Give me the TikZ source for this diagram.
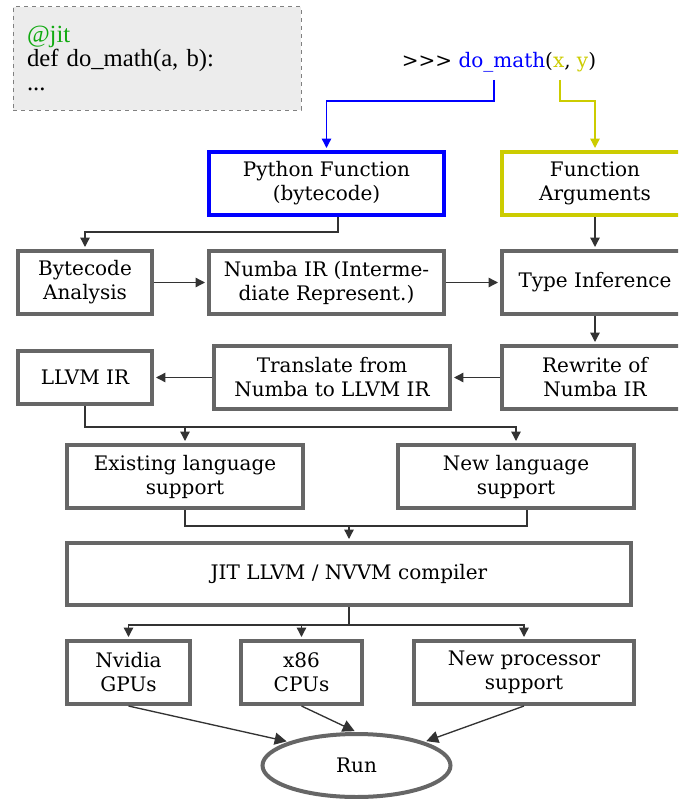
\documentclass[tikz,border=0pt]{standalone}
\usepackage{fontspec}
\setmainfont{DejaVu Serif}
\newfontfamily\codefont{Liberation Serif}
\usetikzlibrary{arrows.meta,shapes.geometric}
\definecolor{boxgray}{HTML}{666666}
\definecolor{linegray}{HTML}{333333}
\definecolor{argyellow}{HTML}{CCCC00}
\definecolor{jitgreen}{HTML}{11AA11}
\definecolor{codebg}{HTML}{ECECEC}
\tikzset{
  box/.style={draw=boxgray, line width=3pt, fill=white, minimum height=47.25pt,
    align=center, inner sep=0pt, font=\fontsize{15}{18}\selectfont},
  arr/.style={draw=linegray, line width=1pt, shorten >=1.5pt,
    -{Triangle[length=7pt,width=7pt]}},
  bigarr/.style={arr, -{Triangle[length=9pt,width=9pt]}},
}
\begin{document}
\begin{tikzpicture}[x=0.75pt,y=-0.75pt]
\useasboundingbox (0,0) rectangle (678,799);
\clip (0,0) rectangle (678,799);
% source and call
\node[draw=gray, dashed, fill=codebg, line width=0.75pt, minimum width=216pt,
  minimum height=77.25pt, text width=195pt, align=left,
  font=\codefont\fontsize{18.5}{18}\selectfont] (code) at (157,58.5)
  {\textcolor{jitgreen}{@jit}\\def do\_math(a, b):\\...};
\node[font=\fontsize{15}{18}\selectfont] (call) at (499,62)
  {>{}>{}> \textcolor{blue}{do\_math}(\textcolor{argyellow}{x}, \textcolor{argyellow}{y})};
\coordinate (callf) at (494,80);
\coordinate (calla) at (560,80);
% boxes
\node[box, draw=blue, minimum width=176.25pt] (pyfun) at (326.5,183.5) {Python Function\\(bytecode)};
\node[box, draw=argyellow, minimum width=139.5pt] (args) at (595,183.5) {Function\\Arguments};
\node[box, minimum width=100.5pt] (bca) at (85,282.5) {Bytecode\\Analysis};
\node[box, minimum width=176.25pt] (nir) at (326.5,282.5) {Numba IR (Interme-\\diate Represent.)};
\node[box, minimum width=139.5pt] (tinf) at (595,282.5) {Type Inference};
\node[box, minimum width=139.5pt] (rew) at (595,377.5) {Rewrite of\\Numba IR};
\node[box, minimum width=177pt] (trans) at (332,377.5) {Translate from\\Numba to LLVM IR};
\node[box, minimum width=100.5pt, minimum height=39.75pt] (llvm) at (85,377.5) {LLVM IR};
\node[box, minimum width=177pt] (exist) at (185,476.5) {Existing language\\support};
\node[box, minimum width=177pt] (newl) at (516,476.5) {New language\\support};
\node[box, minimum width=423pt, minimum height=46.5pt] (jit) at (349,574) {JIT LLVM / NVVM compiler};
\node[box, minimum width=92.25pt] (gpu) at (128.5,672.5) {Nvidia\\GPUs};
\node[box, minimum width=90.75pt] (cpu) at (301.5,672.5) {x86\\CPUs};
\node[box, minimum width=165pt] (npro) at (524,672.5) {New processor\\support};
\node[box, ellipse, minimum width=141pt, minimum height=47.25pt] (run) at (356.5,765.5) {Run};
% connectors
\draw[arr, draw=blue] (callf) -- ++(0,21) -| (pyfun.north);
\draw[arr, draw=argyellow] (calla) -- ++(0,21) -| (args.north);
\draw[arr] (pyfun.south) ++(11.5,0) -- ++(0,15) -| (bca.north);
\draw[arr] (bca) -- (nir);
\draw[arr] (nir) -- (tinf);
\draw[arr] (args) -- (tinf);
\draw[arr] (tinf) -- (rew);
\draw[arr] (rew) -- (trans);
\draw[arr] (trans) -- (llvm);
\draw[arr] (llvm.south) -- ++(0,21) -| (newl.north);
\draw[arr] (llvm.south) ++(0,21) -| (exist.north);
\draw[arr] (exist.south) -- ++(0,16) -| (jit.north);
\draw[draw=linegray, line width=1pt] (newl.south) ++(11,0) -- ++(0,16) -| (exist.south);
\draw[arr] (jit.south) -- ++(0,18) -| (gpu.north);
\draw[arr] (jit.south) ++(0,18) -| (cpu.north);
\draw[arr] (jit.south) ++(0,18) -| (npro.north);
\draw[bigarr] (gpu.south) -- (run.north west);
\draw[bigarr] (cpu.south) -- (run.north);
\draw[bigarr] (npro.south) -- (run.north east);
\end{tikzpicture}
\end{document}
